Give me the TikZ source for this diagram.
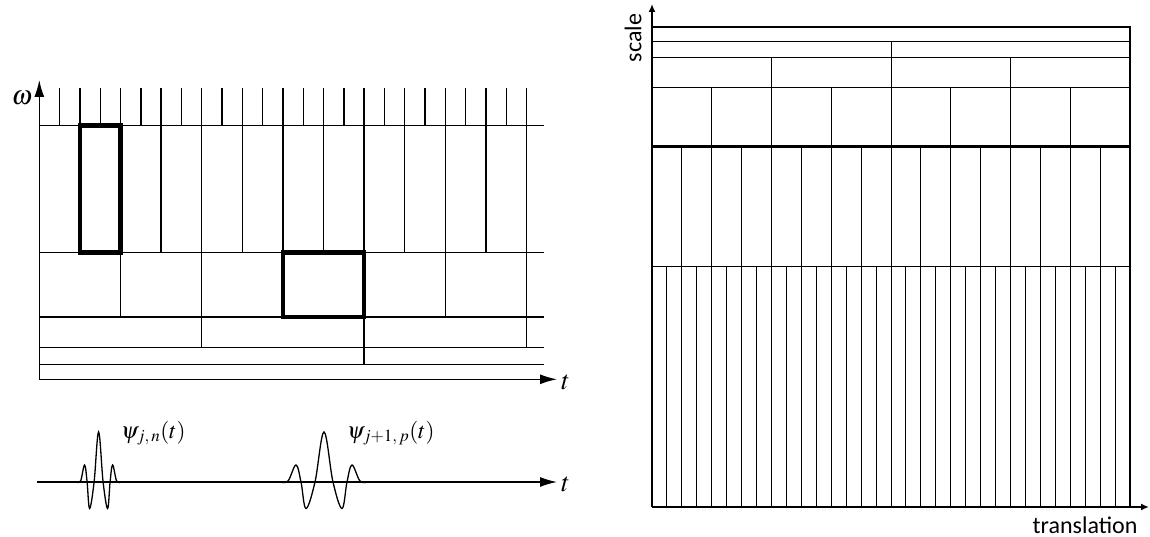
\documentclass[tikz,border=0pt]{standalone}
\usepackage{mathptmx}
\usepackage{fontspec}
\newfontfamily\axisfont{Carlito}
\usetikzlibrary{arrows.meta}

\begin{document}
\begin{tikzpicture}[
x=1pt, y=1pt,
tile/.style={line width=1.4pt, black},
heavy/.style={line width=2.6pt},
boxed/.style={line width=4.5pt},
waxis/.style={line width=1.4pt, -{Latex[length=17pt, width=10pt]}},
saxis/.style={line width=2.8pt, -{Latex[length=8pt, width=7pt]}},
wave/.style={line width=1.3pt},
mathlabel/.style={inner sep=0pt, font=\fontsize{23}{27}\selectfont},
axislabel/.style={inner sep=0pt, font=\fontsize{27}{31}\selectfont},
wordlabel/.style={inner sep=0pt, font=\axisfont\fontsize{24}{28}\selectfont}
]
\useasboundingbox (0,0) rectangle (1150,537);

% --- Left: time-frequency tiling ---
\coordinate (lo) at (39.3,157.7);
\coordinate (lw) at (39.3,457);
\coordinate (lt) at (557,157.7);
\begin{scope}[shift={(39.3,0)}, x=20.3pt]
  \foreach \ytop/\ybot/\s in {449/411.7/1, 411.7/284.3/2, 284.3/220/4, 220/189.7/8, 189.7/172.3/16}{
    \pgfmathtruncatemacro\m{24/\s}
    \foreach \k in {1,...,\m}
      \draw[tile] (\k*\s,\ybot) -- (\k*\s,\ytop);
    \draw[tile] (0,\ybot) -- (24.86,\ybot);
  }
  % the two highlighted atoms
  \draw[boxed] (2,284.3) rectangle (4,411.7);
  \draw[boxed] (12,220) rectangle (16,284.3);
\end{scope}
\draw[waxis] (lo) -- (lw);
\draw[waxis] (lo) -- (lt);
\node[axislabel] (omega) at (22,439) {$\omega$};
\node[axislabel, anchor=west] (t1) at (561,155) {$t$};

% --- Left: two wavelets on the time axis ---
\coordinate (wo) at (37,55);
\coordinate (wt) at (557,55);
\draw[waxis] (wo) -- (wt);
\node[axislabel, anchor=west] (t2) at (561,53) {$t$};
\foreach \cx/\sx in {98.6/1, 324/2}
  \draw[wave, shift={(\cx,55)}, xscale=\sx] plot[smooth, tension=0.6] coordinates {
    (-22,0) (-18,1) (-14,17) (-11.5,0) (-9,-26.5) (-4.5,0) (0,50)
    (4.5,0) (9,-26.5) (11.5,0) (14,17) (18,1) (22,0)};
\node[mathlabel, anchor=west] (psijn) at (121,104) {$\psi_{j,\,n}(t)$};
\node[mathlabel, anchor=west] (psijp) at (347,104) {$\psi_{j+1,\,p}(t)$};

% --- Right: scale / translation grid ---
\coordinate (ro) at (652,30);
\coordinate (rs) at (652,533);
\coordinate (rt) at (1149,30);
\begin{scope}[shift={(652,0)}, x=14.9375pt]
  \foreach \ybot/\ytop/\n in {479.3/495.7/2, 449.7/479.3/4, 390.3/449.7/8, 270/390.3/16, 30/270/32}{
    \pgfmathtruncatemacro\m{\n-1}
    \foreach \k in {1,...,\m}
      \draw[tile, line width=1pt] (\k*32/\n,\ybot) -- (\k*32/\n,\ytop);
  }
  \foreach \yy in {495.7, 479.3, 449.7, 270}
    \draw[tile, line width=1pt] (0,\yy) -- (32,\yy);
  \draw[heavy] (0,390.3) -- (32,390.3);
  \draw[heavy] (0,510) -- (32,510) -- (32,30);
\end{scope}
\draw[saxis] (ro) -- (rs);
\draw[saxis] (ro) -- (rt);
\node[wordlabel, rotate=90] (scale) at (633,499) {scale};
\node[wordlabel] (translation) at (1085,12) {translation};

\end{tikzpicture}
\end{document}
